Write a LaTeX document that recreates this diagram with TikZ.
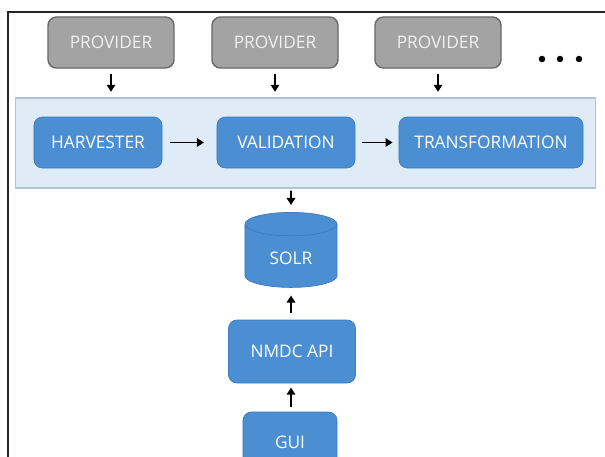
\documentclass[tikz,border=0pt]{standalone}
\usepackage{fontspec}
\setsansfont{Open Sans}
\usetikzlibrary{arrows.meta,positioning,shapes.geometric}
\definecolor{provfill}{RGB}{163,163,163}
\definecolor{provline}{RGB}{105,105,105}
\definecolor{provtext}{RGB}{240,240,240}
\definecolor{stepfill}{RGB}{75,143,210}
\definecolor{stepline}{RGB}{60,124,190}
\definecolor{bandfill}{RGB}{223,235,247}
\definecolor{bandline}{RGB}{176,196,216}

\tikzset{
  provbox/.style={rectangle, rounded corners=6pt, fill=provfill, draw=provline,
    line width=1pt, text=provtext, minimum width=3.15cm, minimum height=1.275cm,
    font=\sffamily\fontsize{12.3}{14}\selectfont},
  stepbox/.style={rectangle, rounded corners=6pt, fill=stepfill, draw=stepline,
    line width=0.5pt, text=white, minimum height=1.275cm,
    font=\sffamily\fontsize{12.3}{14}\selectfont},
  flow/.style={-{Triangle[length=5pt,width=6pt]}, line width=1.4pt, black}
}

\begin{document}
\begin{tikzpicture}[x=0.025cm, y=-0.025cm]
  \clip (0,0) rectangle (605,456);
  \fill[white] (0,0) rectangle (605,456);
  \draw[line width=0.8pt, black!85] (8,460) -- (8,12) -- (610,12);

  % sources
  \node[provbox] (prov1) at (111,42.5) {PROVIDER};
  \node[provbox] (prov2) at (275,42.5) {PROVIDER};
  \node[provbox] (prov3) at (438,42.5) {PROVIDER};
  \foreach \dx in {542,560,579}
    \fill[black] (\dx,59) circle (2.3pt);

  % ingest pipeline
  \node[rectangle, fill=bandfill, draw=bandline, line width=0.8pt,
    minimum width=14.475cm, minimum height=2.25cm] (band) at (305.5,143) {};
  \node[stepbox, minimum width=3.2cm]  (harvester)  at (98,142.5)  {HARVESTER};
  \node[stepbox, minimum width=3.45cm] (validation) at (286,142.5) {VALIDATION};
  \node[stepbox, minimum width=4.6cm]  (transform)  at (491,142.5) {TRANSFORMATION};

  % storage and access
  \node[cylinder, shape border rotate=90, shape aspect=0.45, fill=stepfill,
    draw=stepline, line width=0.5pt, text=white, minimum width=2.3cm,
    minimum height=1.875cm, font=\sffamily\fontsize{12.3}{14}\selectfont]
    (solr) at (291,258.5) {SOLR};
  \node[stepbox, minimum width=3.175cm, minimum height=1.575cm] (api) at (292,351.5) {NMDC API};
  \node[stepbox, minimum width=2.35cm, minimum height=1.5cm] (gui) at (290,442) {GUI};

  \foreach \p in {prov1,prov2,prov3}
    \draw[flow, shorten <=3.5pt, shorten >=4pt] (\p.south) -- (\p.south |- band.north);
  \draw[flow, shorten <=5.7pt, shorten >=9pt] (harvester) -- (validation);
  \draw[flow, shorten <=5pt, shorten >=4.3pt] (validation) -- (transform);
  \draw[flow, shorten <=1.5pt, shorten >=5pt] (band.south -| solr) -- (solr.north);
  \draw[flow, shorten <=5pt, shorten >=5.5pt] (api.north -| solr) -- (solr.south);
  \draw[flow, shorten <=3pt, shorten >=3pt] (gui.north -| solr) -- (api.south -| solr);
\end{tikzpicture}
\end{document}
